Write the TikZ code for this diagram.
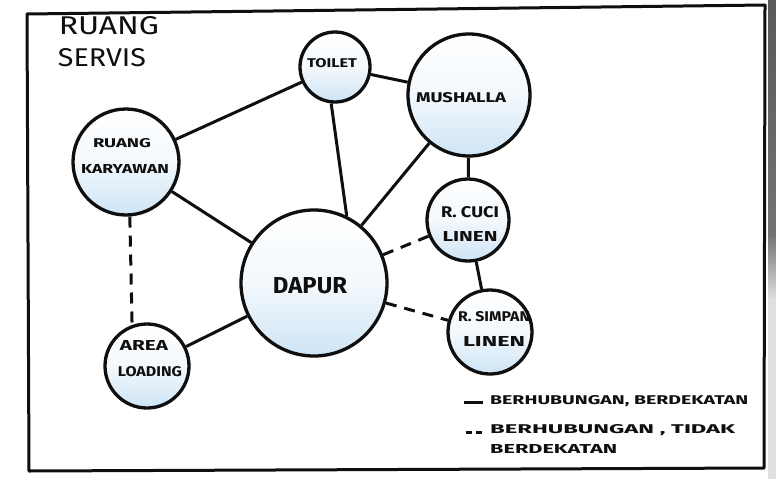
\documentclass[tikz,border=0pt]{standalone}
\usepackage{fontspec}
\setmainfont{Fira Sans}
\usepackage{graphicx}
\newcommand{\fitbox}[3]{\resizebox{#1pt}{#2pt}{#3}}
\definecolor{roomblue}{RGB}{206,228,245}
\definecolor{inkc}{RGB}{15,15,15}
\begin{document}
\begin{tikzpicture}[x=1pt,y=-1pt,
  room/.style={circle, draw=inkc, line width=3.3pt, inner sep=0pt,
    top color=white, bottom color=roomblue, middle color=white!75!roomblue},
  link/.style={draw=inkc, line width=3pt},
  dlink/.style={link, dash pattern=on 11pt off 8pt},
  lbl/.style={inner sep=0pt, text=inkc, font=\bfseries},
  tlbl/.style={inner sep=0pt, text=inkc, font=\mdseries},
  frame/.style={draw=inkc, line width=3pt, line join=round}]
\useasboundingbox (0,0) rectangle (776,479);
\fill[white] (0,0) rectangle (776,479);
% photo edge on the right
\shade[top color=black!65, bottom color=black!55] (768,0) rectangle (776,235);
\shade[top color=black!55, bottom color=black!12] (768,235) rectangle (776,300);
\fill[black!12] (768,300) rectangle (776,479);
% frame
\coordinate (f1) at (27,14);
\coordinate (f2) at (765,5);
\coordinate (f3) at (764,468);
\coordinate (f4) at (29,471);
\draw[frame] (f1) -- (f2) -- (f3) -- (f4) -- cycle;
% title
\node[tlbl] (title1) at (109,26) {\fitbox{100}{18}{RUANG}};
\node[tlbl] (title2) at (102,58) {\fitbox{88}{18}{SERVIS}};
% rooms
\node[room, minimum size=70pt]  (toilet)   at (335,67)  {};
\node[room, minimum size=122pt] (mushalla) at (469,95)  {};
\node[room, minimum size=106pt] (karyawan) at (126,162) {};
\node[room, minimum size=82pt]  (cuci)     at (468,220) {};
\node[room, minimum size=146pt] (dapur)    at (314,283) {};
\node[room, minimum size=84pt]  (simpan)   at (490,332) {};
\node[room, minimum size=84pt]  (loading)  at (147,366) {};
% connectors
\draw[link] (karyawan) -- (toilet);
\draw[link] (toilet) -- (mushalla);
\draw[link] (toilet.264) -- (dapur.64);
\draw[link] (mushalla) -- (dapur);
\draw[link] (mushalla) -- (cuci);
\draw[link] (karyawan) -- (dapur);
\draw[link] (dapur) -- (loading);
\draw[link] (cuci) -- (simpan);
\draw[dlink] (karyawan.-86) -- (loading.110);
\draw[dlink] (dapur) -- (cuci);
\draw[dlink] (dapur) -- (simpan);
% labels
\node[lbl] (ltoilet) at (332,63)  {\fitbox{50}{9}{TOILET}};
\node[lbl] (lmush)   at (461,98)  {\fitbox{90}{10}{MUSHALLA}};
\node[lbl] (lkar1)   at (122,143) {\fitbox{58}{9}{RUANG}};
\node[lbl] (lkar2)   at (125,169) {\fitbox{88}{9}{KARYAWAN}};
\node[lbl] (ldapur)  at (310,286) {\fitbox{74}{16}{DAPUR}};
\node[lbl] (lcuci1)  at (470,212) {\fitbox{58}{11}{R. CUCI}};
\node[lbl] (lcuci2)  at (470,236) {\fitbox{55}{10}{LINEN}};
\node[lbl] (lsim1)   at (494,317) {\fitbox{72}{10}{R. SIMPAN}};
\node[lbl] (lsim2)   at (494,341) {\fitbox{62}{10}{LINEN}};
\node[lbl] (lload1)  at (144,345) {\fitbox{48}{10}{AREA}};
\node[lbl] (lload2)  at (150,372) {\fitbox{64}{10}{LOADING}};
% legend
\coordinate (ls1a) at (464,402);
\coordinate (ls1b) at (483,402);
\coordinate (ls2a) at (466,432);
\coordinate (ls2b) at (484,432);
\draw[link] (ls1a) -- (ls1b);
\draw[link, dash pattern=on 6pt off 4pt] (ls2a) -- (ls2b);
\node[tlbl, anchor=west, font=\bfseries] (leg1) at (490,401) {\fitbox{258}{9}{BERHUBUNGAN, BERDEKATAN}};
\node[tlbl, anchor=west, font=\bfseries] (leg2) at (490,430) {\fitbox{245}{9}{BERHUBUNGAN , TIDAK}};
\node[tlbl, anchor=west, font=\bfseries] (leg3) at (490,449) {\fitbox{127}{9}{BERDEKATAN}};
\end{tikzpicture}
\end{document}
